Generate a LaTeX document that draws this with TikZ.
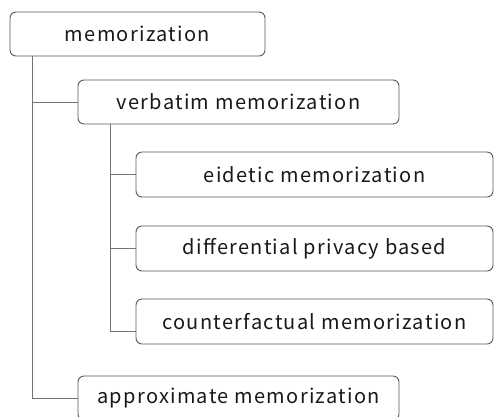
\documentclass[tikz,border=0pt]{standalone}
\usepackage{fontspec}
\setmainfont[LetterSpace=6.5]{Noto Sans CJK JP}
\begin{document}
\begin{tikzpicture}[x=1pt,y=-1pt,
  box/.style={draw=black!65,line width=0.9pt,rounded corners=6pt,fill=white,
    minimum height=44pt,inner sep=0pt,font=\fontsize{20}{24}\selectfont,text=black!90},
  link/.style={draw=black!55,line width=0.9pt}]
\useasboundingbox (0,0) rectangle (494,416);
\node[box,minimum width=255pt] (root) at (137.5,34) {memorization};
\node[box,minimum width=321pt] (verb) at (238.5,102) {verbatim memorization};
\node[box,minimum width=357pt,minimum height=45pt] (eid) at (314.5,174.5) {eidetic memorization};
\node[box,minimum width=357pt,minimum height=45pt] (diff) at (314.5,248.5) {differential privacy based};
\node[box,minimum width=357pt,minimum height=45pt] (cf) at (314.5,321.5) {counterfactual memorization};
\node[box,minimum width=321pt] (approx) at (238.5,398) {approximate memorization};
\draw[link] ([xshift=23pt]root.south west) |- (verb.west);
\draw[link] ([xshift=23pt]root.south west) |- (approx.west);
\draw[link] ([xshift=33pt]verb.south west) |- (eid.west);
\draw[link] ([xshift=33pt]verb.south west) |- (diff.west);
\draw[link] ([xshift=33pt]verb.south west) |- ([yshift=-10pt]cf.west);
\end{tikzpicture}
\end{document}
